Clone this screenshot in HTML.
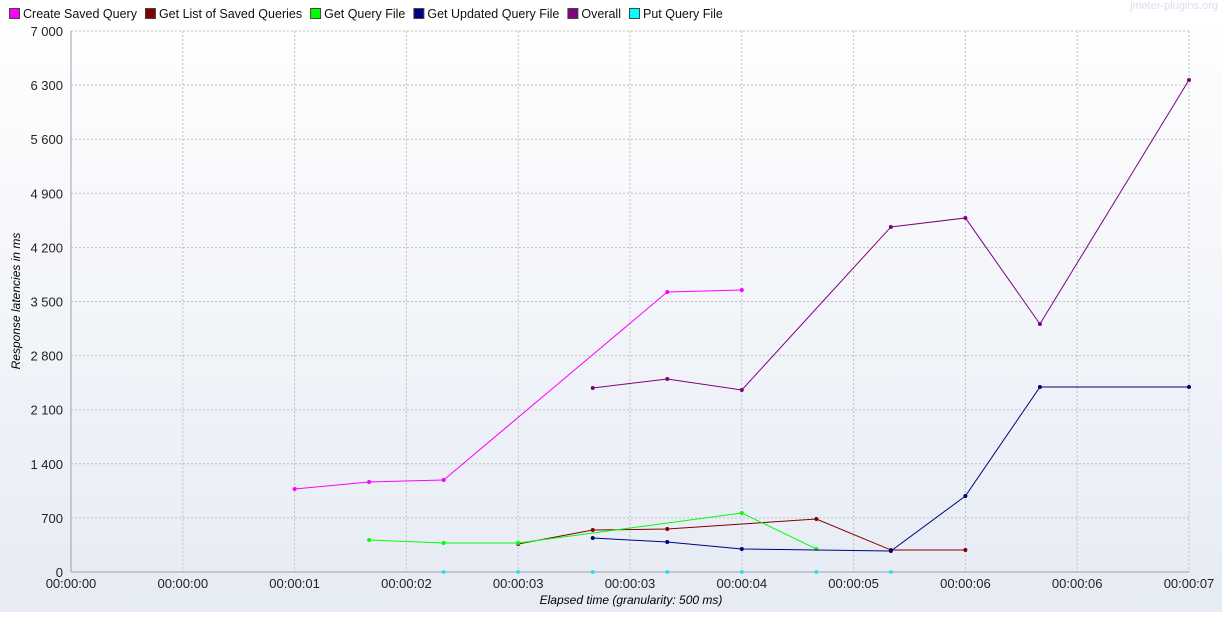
<!DOCTYPE html>
<html><head><meta charset="utf-8"><style>
body{margin:0;width:1222px;height:612px;overflow:hidden;background:#fff;font-family:"Liberation Sans",sans-serif}
svg text{font-family:"Liberation Sans",sans-serif}
</style></head><body>
<svg id="chart" width="1222" height="612" xmlns="http://www.w3.org/2000/svg">
<defs><linearGradient id="bg" x1="0" y1="0" x2="0" y2="1"><stop offset="0" stop-color="#ffffff"/><stop offset="1" stop-color="#e6ebf4"/></linearGradient></defs>
<rect width="1222" height="612" fill="url(#bg)"/>
<rect x="0" y="0" width="1222" height="28" fill="#fff"/>
<text x="1218" y="9" font-size="11" fill="#dde" text-anchor="end">jmeter-plugins.org</text>
<g id="grid"></g><g id="series"></g><g id="axes"></g><g id="legend"></g>
<text x="631" y="604" font-size="12" font-style="italic" text-anchor="middle">Elapsed time (granularity: 500 ms)</text>
<text transform="translate(20,301) rotate(-90)" font-size="12" font-style="italic" text-anchor="middle">Response latencies in ms</text>
</svg>
<script>
const seriesNames=["Create Saved Query","Get List of Saved Queries","Get Query File","Get Updated Query File","Overall","Put Query File"];
const seriesColors=["#ff00ff","#800000","#00ff00","#000080","#800080","#00ffff"];
const createT=[1500,2000,2500,4000,4500];
const createV=[1074,1165,1190,3623,3649];
const listT=[3000,3500,4000,5000,5500,6000];
const listV=[362,543,556,686,285,285];
const fileT=[2000,2500,3000,4500,5000];
const fileV=[414,375,375,763,298];
const updT=[3500,4000,4500,5500,6000,6500,7500];
const updV=[440,388,298,272,983,2394,2394];
const overallT=[3500,4000,4500,5500,6000,6500,7500];
const overallV=[2381,2497,2355,4464,4581,3209,6366];
const putT=[2500,3000,3500,4000,4500,5000,5500];
const putV=[0,0,0,0,0,0,0];
const yTicks=[0,700,1400,2100,2800,3500,4200,4900,5600,6300,7000];
const yTickLabels=["0","700","1 400","2 100","2 800","3 500","4 200","4 900","5 600","6 300","7 000"];
const xTicks=[0,750,1500,2250,3000,3750,4500,5250,6000,6750,7500];
const xTickLabels=["00:00:00","00:00:00","00:00:01","00:00:02","00:00:03","00:00:03","00:00:04","00:00:05","00:00:06","00:00:06","00:00:07"];
const X0=71,X1=1189,Y0=572,Y1=31;
const xs=t=>X0+(t/7500)*(X1-X0);
const ys=v=>Y0-(v/7000)*(Y0-Y1);
const NS="http://www.w3.org/2000/svg";
function mk(tag,attrs,parent){const e=document.createElementNS(NS,tag);for(const k in attrs)e.setAttribute(k,attrs[k]);parent.appendChild(e);return e;}
const grid=document.getElementById('grid'),axes=document.getElementById('axes'),ser=document.getElementById('series'),leg=document.getElementById('legend');
yTicks.forEach((v,i)=>{const y=ys(v);
 const l=mk('line',{x1:X0,x2:X1,y1:y,y2:y,stroke:'#c0c0c0','stroke-dasharray':'2,2'},grid);
 
 
 const t=mk('text',{x:X0-8,y:y+5,'font-size':13,'text-anchor':'end',fill:'#222'},axes);t.textContent=yTickLabels[i];
 
 
});
xTicks.forEach((v,i)=>{const x=xs(v);
 const l=mk('line',{x1:x,x2:x,y1:Y1,y2:Y0,stroke:'#c0c0c0','stroke-dasharray':'2,2'},grid);
 
 
 const t=mk('text',{x:x,y:Y0+16,'font-size':13,'text-anchor':'middle',fill:'#222'},axes);t.textContent=xTickLabels[i];
 
 
});
const ya=mk('line',{x1:X0,x2:X0,y1:Y1,y2:Y0,stroke:'#a0a0a8'},axes);


const xa=mk('line',{x1:X0,x2:X1,y1:Y0,y2:Y0,stroke:'#a0a0a8'},axes);


const allT=[createT,listT,fileT,updT,overallT,putT],allV=[createV,listV,fileV,updV,overallV,putV];
allT.forEach((T,s)=>{const V=allV[s];
 const p=mk('polyline',{points:T.map((t,i)=>xs(t)+','+ys(V[i])).join(' '),fill:'none',stroke:seriesColors[s],'stroke-width':1},ser);
 
 
 T.forEach((t,i)=>{const c=mk('circle',{cx:xs(t),cy:ys(V[i]),r:2,fill:seriesColors[s]},ser);
  
  });
});
let lx=9;
seriesNames.forEach((n,s)=>{
 const r=mk('rect',{x:lx+0.5,y:8.5,width:10,height:10,fill:seriesColors[s],stroke:'#444'},leg);
 
 
 const t=mk('text',{x:lx+14,y:18,'font-size':12.5,fill:'#111'},leg);t.textContent=n;
 
 
 lx+=14+t.getComputedTextLength()+8;
});
</script>
</body></html>
